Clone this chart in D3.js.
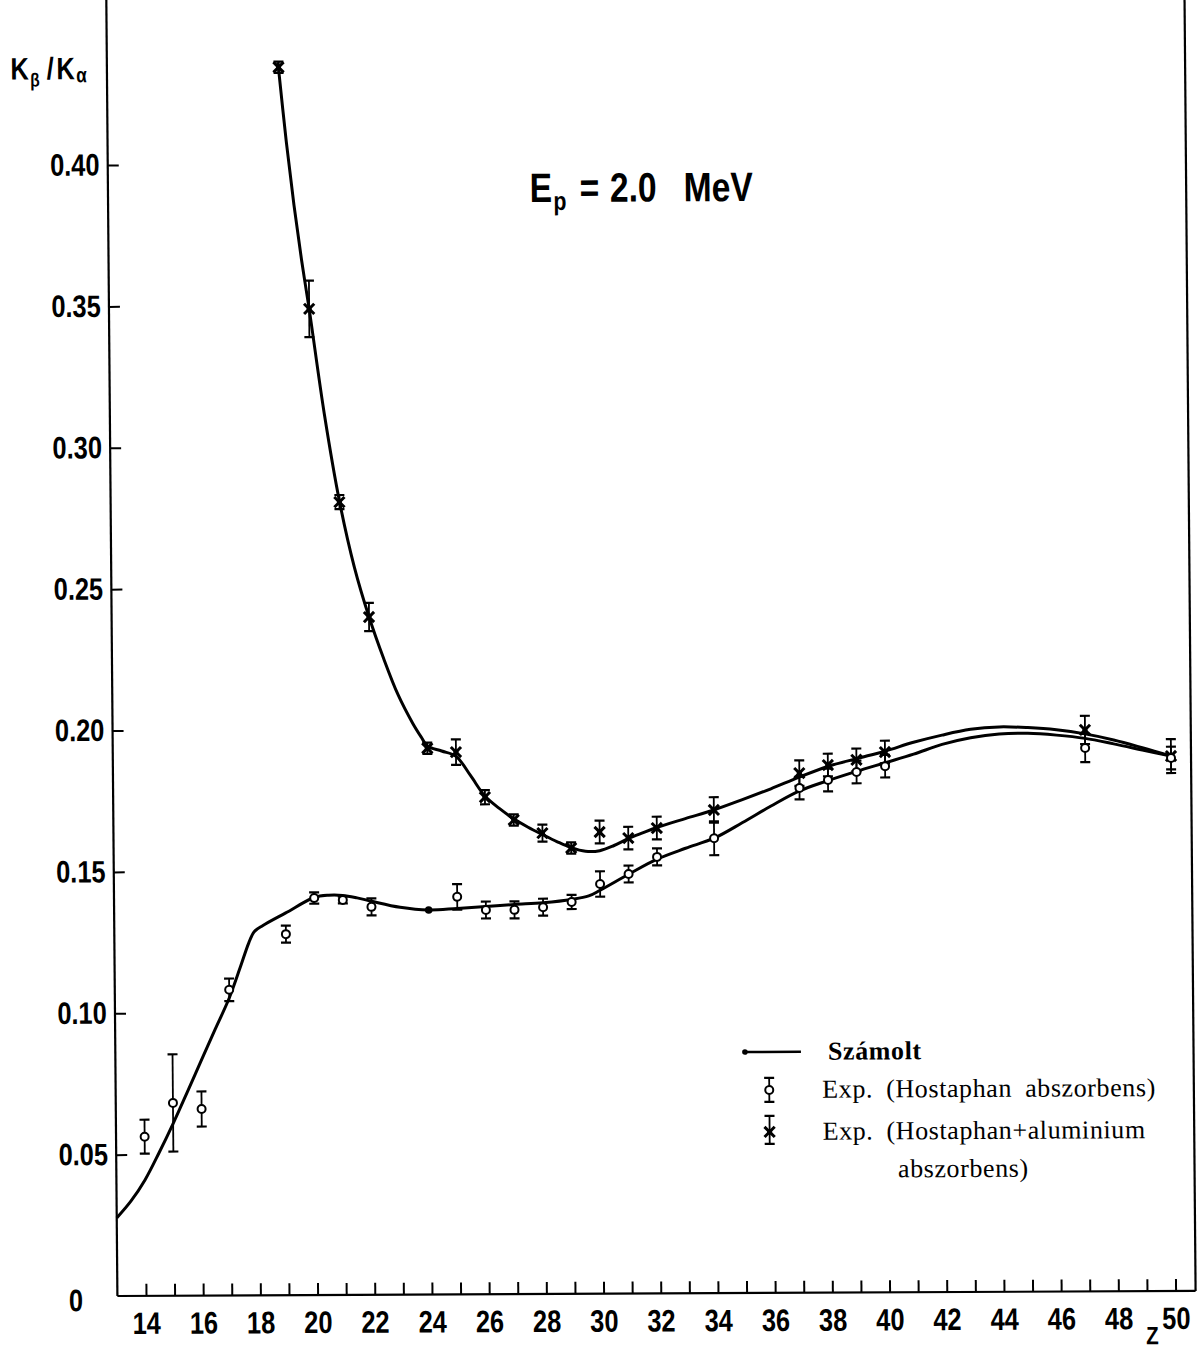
<!DOCTYPE html>
<html><head><meta charset="utf-8">
<script src="https://cdn.jsdelivr.net/npm/d3@7"></script>
<style>body{margin:0;background:#fff} svg{display:block}</style>
</head><body>
<svg id="c" width="1203" height="1352"></svg>
<script>
// ---- data ----
const xTickValues = d3.range(14, 51);           // minor ticks every Z
const xLabelValues = d3.range(14, 51, 2);        // labelled ticks
const yTicks = [0.05, 0.10, 0.15, 0.20, 0.25, 0.30, 0.35, 0.40];
const yTickLabels = ["0.05", "0.10", "0.15", "0.20", "0.25", "0.30", "0.35", "0.40"];

// Exp. (Hostaphan abszorbens) - open circles
const hostZ   = [14, 15, 16, 17, 19, 20, 21, 22, 25, 26, 27, 28, 29, 30, 31, 32, 34, 37, 38, 39, 40, 47, 50];
const hostVal = [0.0563, 0.0682, 0.0660, 0.1081, 0.1277, 0.1404, 0.1397, 0.1372, 0.1406, 0.1359, 0.1359, 0.1368, 0.1386, 0.1449, 0.1484, 0.1544, 0.1609, 0.1785, 0.1813, 0.1841, 0.1861, 0.1922, 0.1885];
const hostErr = [0.0060, 0.0172, 0.0062, 0.0040, 0.0030, 0.0020, 0.0012, 0.0030, 0.0045, 0.0030, 0.0030, 0.0030, 0.0025, 0.0045, 0.0030, 0.0030, 0.0060, 0.0040, 0.0040, 0.0040, 0.0040, 0.0050, 0.0040];

// Exp. (Hostaphan+aluminium abszorbens) - crosses
const alZ   = [19, 20, 21, 22, 24, 25, 26, 27, 28, 29, 30, 31, 32, 34, 37, 38, 39, 40, 47, 50];
const alVal = [0.4343, 0.3488, 0.2804, 0.2397, 0.1932, 0.1918, 0.1758, 0.1677, 0.1630, 0.1577, 0.1633, 0.1611, 0.1646, 0.1709, 0.1838, 0.1866, 0.1884, 0.1911, 0.1986, 0.1892];
const alErr = [0.0020, 0.0100, 0.0025, 0.0050, 0.0020, 0.0045, 0.0025, 0.0020, 0.0030, 0.0020, 0.0040, 0.0040, 0.0040, 0.0045, 0.0045, 0.0040, 0.0040, 0.0040, 0.0050, 0.0060];

// Számolt (calculated) - Hostaphan
const calcLowZ   = [13, 13.5, 14, 14.5, 15, 15.5, 16, 16.5, 17, 17.4, 17.7, 17.9, 18.2, 19, 20, 20.5, 21, 21.5, 22, 23, 24, 25, 26, 27, 28, 29, 29.6, 30, 31, 32, 33, 34, 35, 36, 37, 38, 39, 40, 41, 42, 43, 44, 45, 46, 47, 48, 49, 50];
const calcLowVal = [0.0276, 0.0335, 0.0410, 0.0506, 0.0609, 0.0719, 0.0831, 0.0942, 0.1052, 0.1162, 0.1247, 0.1287, 0.1308, 0.1352, 0.1406, 0.1414, 0.1413, 0.1404, 0.1392, 0.1370, 0.1360, 0.1365, 0.1371, 0.1378, 0.1384, 0.1395, 0.1407, 0.1427, 0.1483, 0.1536, 0.1574, 0.1609, 0.1664, 0.1722, 0.1775, 0.1811, 0.1843, 0.1873, 0.1903, 0.1937, 0.1960, 0.1973, 0.1975, 0.1968, 0.1956, 0.1936, 0.1914, 0.1892];

// Számolt (calculated) - Hostaphan + aluminium
const calcHighZ   = [18.98, 19.25, 19.5, 19.75, 20, 20.5, 21, 21.5, 22, 22.5, 23, 23.5, 23.8, 24, 24.5, 25, 25.5, 26, 26.5, 27, 27.5, 28, 28.5, 29, 29.5, 30, 30.5, 31, 31.5, 32, 33, 34, 35, 36, 37, 38, 39, 40, 41, 42, 43, 44, 45, 46, 47, 48, 49, 50];
const calcHighVal = [0.4360, 0.4080, 0.3855, 0.3660, 0.3488, 0.3115, 0.2808, 0.2575, 0.2398, 0.2250, 0.2120, 0.2020, 0.1970, 0.1940, 0.1922, 0.1903, 0.1835, 0.1762, 0.1718, 0.1681, 0.1651, 0.1625, 0.1600, 0.1578, 0.1565, 0.1567, 0.1585, 0.1609, 0.1629, 0.1648, 0.1679, 0.1709, 0.1745, 0.1783, 0.1824, 0.1861, 0.1888, 0.1914, 0.1945, 0.1970, 0.1990, 0.1998, 0.1995, 0.1987, 0.1972, 0.1950, 0.1922, 0.1892];

const calcDotZ = [24];
const calcDotVal = [0.1360];

// ---- drawing ----
const svg = d3.select("#c");
const g = svg.append("g")
  .attr("transform", "rotate(-0.27,118,1296) translate(118,1296) skewX(0.22) translate(-118,-1296)");

const x = d3.scaleLinear().domain([13, 50.7]).range([117.4, 1195.6]);
const y = d3.scaleLinear().domain([0, 0.4]).range([1296, 165]);

const tickFont = "'Liberation Sans', Arial, sans-serif";
const NARROW = 0.82;

function narrowText(parent, tx, ty, txt, size, anchor) {
  const gg = parent.append("g").attr("transform", `translate(${tx},${ty}) scale(${NARROW},1)`);
  return gg.append("text").attr("x", 0).attr("y", 0).attr("text-anchor", anchor || "start")
    .attr("font-family", tickFont).attr("font-weight", "bold").attr("font-size", size).text(txt);
}

// frame lines
g.append("line").attr("x1", x(13)).attr("x2", x(13)).attr("y1", -20).attr("y2", y(0))
  .attr("stroke", "#000").attr("stroke-width", 2.2);
g.append("line").attr("x1", x(13)).attr("x2", x(50.7)).attr("y1", y(0)).attr("y2", y(0))
  .attr("stroke", "#000").attr("stroke-width", 2.2);
g.append("line").attr("x1", x(50.7)).attr("x2", x(50.7)).attr("y1", -20).attr("y2", y(0))
  .attr("stroke", "#000").attr("stroke-width", 2.2);

// x axis
const xAxis = d3.axisBottom(x).tickValues(xTickValues).tickSize(-12).tickPadding(16)
  .tickFormat(d => (xLabelValues.includes(d) ? String(d) : ""));
const gx = g.append("g").attr("transform", `translate(0,${y(0)})`).call(xAxis);
gx.select(".domain").remove();
gx.selectAll(".tick line").attr("stroke", "#000").attr("stroke-width", 2);
gx.selectAll(".tick text").attr("fill", "#000").attr("font-family", tickFont)
  .attr("font-weight", "bold").attr("font-size", 31).attr("transform", `scale(${NARROW},1)`);

// y axis
const yAxis = d3.axisLeft(y).tickValues(yTicks).tickSize(-11).tickPadding(10)
  .tickFormat((d, i) => yTickLabels[i]);
const gy = g.append("g").attr("transform", `translate(${x(13)},0)`).call(yAxis);
gy.select(".domain").remove();
gy.selectAll(".tick line").attr("stroke", "#000").attr("stroke-width", 2);
gy.selectAll(".tick text").attr("fill", "#000").attr("font-family", tickFont)
  .attr("font-weight", "bold").attr("font-size", 31).attr("transform", `scale(${NARROW},1)`);

// "0" label at origin
narrowText(g, 83, y(0) + 15, "0", 31, "end");

// Z label
narrowText(g, 1152, 1349, "Z", 25, "middle");

// Y axis title K_beta / K_alpha
const ylg = g.append("g").attr("transform", `translate(21,79) scale(${NARROW},1)`);
const yl = ylg.append("text").attr("font-family", tickFont).attr("font-weight", "bold").attr("font-size", 31);
yl.append("tspan").attr("x", 0).text("K");
yl.append("tspan").attr("x", 24).attr("dy", 7).attr("font-size", 19).text("β");
yl.append("tspan").attr("x", 44).attr("dy", -7).text("/");
yl.append("tspan").attr("x", 56).text("K");
yl.append("tspan").attr("x", 80).attr("dy", 3).attr("font-size", 21).text("α");

// title E_p = 2.0 MeV
const ttg = g.append("g").attr("transform", `translate(539,204) scale(${NARROW},1)`);
const tt = ttg.append("text").attr("font-family", tickFont).attr("font-weight", "bold").attr("font-size", 41);
tt.append("tspan").attr("x", 0).text("E");
tt.append("tspan").attr("x", 29).attr("dy", 8).attr("font-size", 26).text("p");
tt.append("tspan").attr("x", 61).attr("dy", -8).text("=");
tt.append("tspan").attr("x", 98).text("2.0");
tt.append("tspan").attr("x", 188).text("MeV");

// calculated curves
const line = d3.line().x(d => x(d[0])).y(d => y(d[1])).curve(d3.curveCatmullRom.alpha(0.5));
g.append("path").datum(calcLowZ.map((z, i) => [z, calcLowVal[i]]))
  .attr("d", line).attr("fill", "none").attr("stroke", "#000").attr("stroke-width", 3)
  .attr("stroke-linejoin", "round");
g.append("path").datum(calcHighZ.map((z, i) => [z, calcHighVal[i]]))
  .attr("d", line).attr("fill", "none").attr("stroke", "#000").attr("stroke-width", 3)
  .attr("stroke-linejoin", "round");

g.selectAll(".cdot").data(calcDotZ.map((z, i) => [z, calcDotVal[i]])).enter()
  .append("circle").attr("cx", d => x(d[0])).attr("cy", d => y(d[1])).attr("r", 3.8).attr("fill", "#000");

// error bars helper
function errBars(sel, pts) {
  const eg = sel.append("g").attr("stroke", "#000");
  pts.forEach(p => {
    const cx = x(p[0]), y1 = y(p[1] + p[2]), y2 = y(p[1] - p[2]);
    eg.append("line").attr("x1", cx).attr("x2", cx).attr("y1", y1).attr("y2", y2).attr("stroke-width", 1.8);
    eg.append("line").attr("x1", cx - 5).attr("x2", cx + 5).attr("y1", y1).attr("y2", y1).attr("stroke-width", 2.2);
    eg.append("line").attr("x1", cx - 5).attr("x2", cx + 5).attr("y1", y2).attr("y2", y2).attr("stroke-width", 2.2);
  });
}

const hostPts = hostZ.map((z, i) => [z, hostVal[i], hostErr[i]]);
const alPts = alZ.map((z, i) => [z, alVal[i], alErr[i]]);

errBars(g, alPts);
errBars(g, hostPts);

const xSym = d3.symbol().type(d3.symbolX).size(70);
g.selectAll(".al").data(alPts).enter().append("path")
  .attr("d", xSym).attr("transform", d => `translate(${x(d[0])},${y(d[1])})`)
  .attr("fill", "none").attr("stroke", "#000").attr("stroke-width", 3);
g.selectAll(".alc").data(alPts).enter().append("rect")
  .attr("x", d => x(d[0]) - 2.5).attr("y", d => y(d[1]) - 2.5).attr("width", 5).attr("height", 5).attr("fill", "#000");

g.selectAll(".host").data(hostPts).enter().append("circle")
  .attr("cx", d => x(d[0])).attr("cy", d => y(d[1])).attr("r", 4)
  .attr("fill", "#fff").attr("stroke", "#000").attr("stroke-width", 2);

// legend
const serif = "'Liberation Serif', 'Times New Roman', serif";
const lg = g.append("g");
lg.append("line").attr("x1", 747).attr("x2", 803).attr("y1", 1055).attr("y2", 1055)
  .attr("stroke", "#000").attr("stroke-width", 2.5);
lg.append("circle").attr("cx", 747).attr("cy", 1055).attr("r", 2.8).attr("fill", "#000");

function legendMarker(cx, cy, up, down, kind) {
  lg.append("line").attr("x1", cx).attr("x2", cx).attr("y1", cy - up).attr("y2", cy + down)
    .attr("stroke", "#000").attr("stroke-width", 1.8);
  [cy - up, cy + down].forEach(yy => lg.append("line").attr("x1", cx - 5).attr("x2", cx + 5)
    .attr("y1", yy).attr("y2", yy).attr("stroke", "#000").attr("stroke-width", 2.2));
  if (kind === "o") {
    lg.append("circle").attr("cx", cx).attr("cy", cy).attr("r", 4).attr("fill", "#fff")
      .attr("stroke", "#000").attr("stroke-width", 2);
  } else {
    lg.append("path").attr("d", xSym).attr("transform", `translate(${cx},${cy})`)
      .attr("fill", "none").attr("stroke", "#000").attr("stroke-width", 3);
    lg.append("rect").attr("x", cx - 2.5).attr("y", cy - 2.5).attr("width", 5).attr("height", 5).attr("fill", "#000");
  }
}
legendMarker(771, 1093, 12, 12, "o");
legendMarker(771, 1135, 16, 12, "x");

const legendTexts = [
  { x: 830, y: 1063, t: "Számolt", bold: true },
  { x: 824, y: 1101, t: "Exp. (Hostaphan abszorbens)" },
  { x: 824, y: 1143, t: "Exp. (Hostaphan+aluminium" },
  { x: 899, y: 1181, t: "abszorbens)" }
];
legendTexts.forEach(d => {
  lg.append("text").attr("x", d.x).attr("y", d.y).attr("font-family", serif)
    .attr("font-size", 26).attr("font-weight", d.bold ? "bold" : "normal")
    .attr("letter-spacing", 0.6).attr("word-spacing", 6).text(d.t);
});
</script>
</body></html>
